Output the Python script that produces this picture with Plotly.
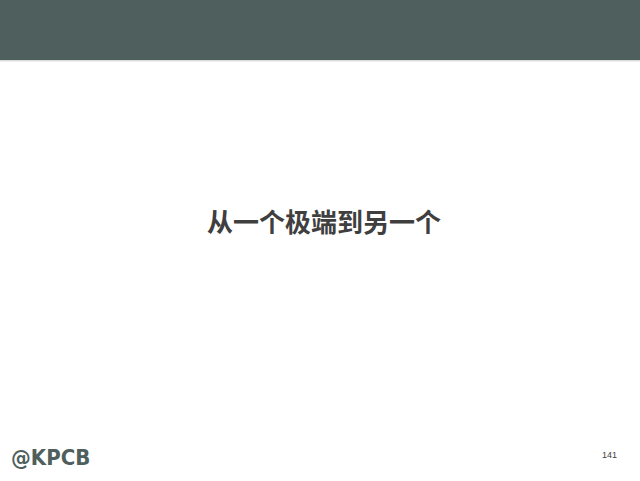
import plotly.graph_objects as go

title_text = ["从一个极端到另一个"]
logo_text = ["@KPCB"]
page_number = ["141"]

W, H = 640, 481
HEADER_COLOR = "#4F5F5D"

fig = go.Figure()

fig.update_layout(
    width=W, height=H,
    margin=dict(l=0, r=0, t=0, b=0),
    paper_bgcolor="white", plot_bgcolor="white",
    xaxis=dict(visible=False, range=[0, W], fixedrange=True),
    yaxis=dict(visible=False, range=[H, 0], fixedrange=True),
    showlegend=False,
)

# header band
fig.add_shape(type="rect", xref="paper", yref="paper",
              x0=0, x1=1, y0=1 - 60 / H, y1=1,
              fillcolor=HEADER_COLOR, line=dict(width=0), layer="below")
fig.add_shape(type="line", xref="paper", yref="paper",
              x0=0, x1=1, y0=1 - 60.8 / H, y1=1 - 60.8 / H,
              line=dict(color="#C8CCC8", width=1))

# title
fig.add_annotation(text="<b>" + title_text[0] + "</b>", xref="paper", yref="paper",
                   x=323.5 / W, y=1 - 220 / H, xanchor="center", yanchor="middle",
                   showarrow=False,
                   font=dict(family="Noto Sans CJK SC", size=26, color="#3F3F3F"))

# logo
fig.add_annotation(text="<b>" + logo_text[0] + "</b>", xref="paper", yref="paper",
                   x=9 / W, y=1 - 457 / H, xanchor="left", yanchor="middle",
                   showarrow=False,
                   font=dict(family="DejaVu Sans Condensed", size=22, color=HEADER_COLOR))

# page number
fig.add_annotation(text=page_number[0], xref="paper", yref="paper",
                   x=619 / W, y=1 - 455 / H, xanchor="right", yanchor="middle",
                   showarrow=False,
                   font=dict(family="Liberation Sans", size=9, color="#404040"))

fig.write_html("out.html", config={"displayModeBar": False},
               post_script="document.body.style.margin='0';document.body.style.padding='0';")
